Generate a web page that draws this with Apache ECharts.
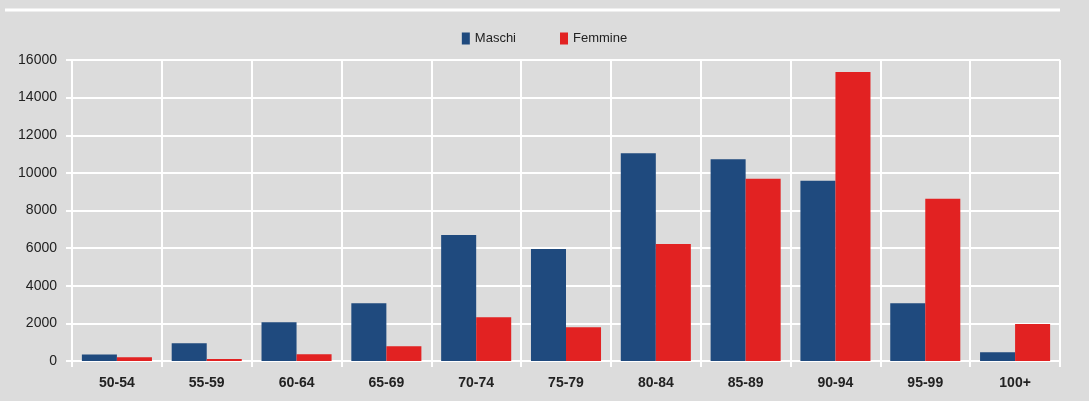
<!DOCTYPE html>
<html>
<head>
<meta charset="utf-8">
<script src="https://cdn.jsdelivr.net/npm/echarts@6/dist/echarts.min.js"></script>
<style>
  html, body { margin: 0; padding: 0; background: #dcdcdc; }
  #chart { width: 1089px; height: 401px; }
</style>
</head>
<body>
<div id="chart"></div>
<script>
  // fasce di età e valori
  var categories = ['50-54', '55-59', '60-64', '65-69', '70-74', '75-79', '80-84', '85-89', '90-94', '95-99', '100+'];
  var maschi = [350, 950, 2060, 3070, 6700, 5950, 11040, 10720, 9580, 3070, 460];
  var femmine = [200, 100, 360, 780, 2320, 1790, 6220, 9690, 15360, 8630, 1970];

  var font = '"Liberation Sans", Arial, sans-serif';

  var myChart = echarts.init(document.getElementById('chart'));
  myChart.setOption({
    backgroundColor: '#dcdcdc',
    animation: false,
    graphic: [{
      type: 'line',
      shape: { x1: 5, y1: 10, x2: 1060, y2: 10 },
      style: { stroke: '#ffffff', lineWidth: 3 }
    }],
    legend: {
      top: 27,
      left: 'center',
      itemWidth: 8,
      itemHeight: 12,
      itemGap: 44,
      icon: 'rect',
      textStyle: { fontFamily: font, fontSize: 13, color: '#222' },
      data: ['Maschi', 'Femmine']
    },
    grid: {
      left: 72,
      right: 29,
      top: 60,
      bottom: 40
    },
    xAxis: {
      type: 'category',
      data: categories,
      axisLine: { lineStyle: { color: '#ffffff', width: 2 } },
      axisTick: { show: true, length: 6, lineStyle: { color: '#ffffff', width: 2 } },
      splitLine: { show: true, lineStyle: { color: '#ffffff', width: 2 } },
      axisLabel: {
        fontFamily: font,
        fontSize: 14,
        fontWeight: 'bold',
        color: '#222',
        margin: 15,
        interval: 0
      }
    },
    yAxis: {
      type: 'value',
      min: 0,
      max: 16000,
      interval: 2000,
      axisLine: { show: true, lineStyle: { color: '#ffffff', width: 2 } },
      axisTick: { show: true, length: 6, lineStyle: { color: '#ffffff', width: 2 } },
      splitLine: { show: true, lineStyle: { color: '#ffffff', width: 2 } },
      axisLabel: {
        fontFamily: font,
        fontSize: 14,
        color: '#222',
        margin: 15,
        formatter: function (v) { return String(v); }
      }
    },
    series: [
      {
        name: 'Maschi',
        type: 'bar',
        data: maschi,
        barGap: '0%',
        barCategoryGap: '22%',
        itemStyle: { color: '#1f4a7e' }
      },
      {
        name: 'Femmine',
        type: 'bar',
        data: femmine,
        itemStyle: { color: '#e22222' }
      }
    ]
  });
</script>
</body>
</html>
